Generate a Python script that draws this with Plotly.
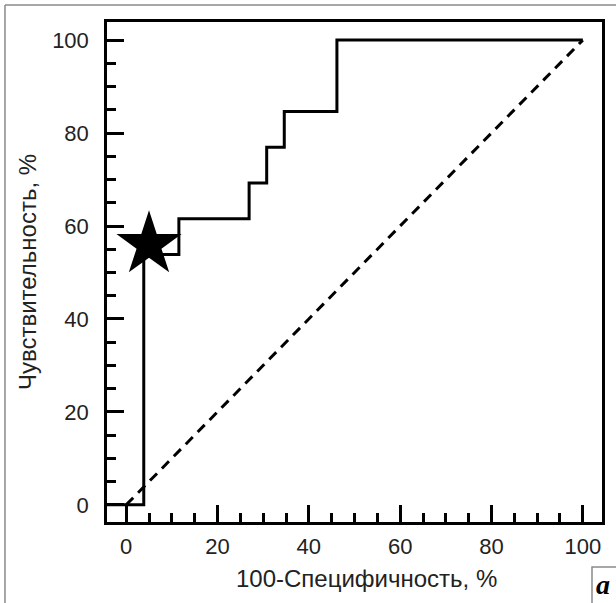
import plotly.graph_objects as go

# ROC curve data (100-specificity, sensitivity)
fpr = [-5, 3.85, 11.54, 26.92, 30.77, 34.62, 46.15, 100]
tpr = [0, 53.85, 61.54, 69.23, 76.92, 84.62, 100, 100]
diag_x = [0, 100]
diag_y = [0, 100]
cut_x = [5]
cut_y = [56]
x_ticks = [0, 20, 40, 60, 80, 100]
y_ticks = [0, 20, 40, 60, 80, 100]
x_title = "100-Специфичность, %"
y_title = "Чувствительность, %"
panel_label = "a"

FONT = "Liberation Sans, Arial"

fig = go.Figure()
fig.add_trace(go.Scatter(x=diag_x, y=diag_y, mode="lines",
                         line=dict(color="black", width=3, dash="10px,7px"),
                         showlegend=False, hoverinfo="skip"))
fig.add_trace(go.Scatter(x=cut_x, y=cut_y, mode="markers",
                         marker=dict(symbol="star", size=49, color="black",
                                     line=dict(width=0)),
                         showlegend=False))
fig.add_trace(go.Scatter(x=fpr, y=tpr, mode="lines", line_shape="hv",
                         line=dict(color="black", width=3),
                         showlegend=False))

axis_common = dict(
    showline=True, linecolor="black", linewidth=2.5, mirror=True,
    ticks="inside", ticklen=17, tickwidth=3, tickcolor="black",
    showgrid=False, zeroline=False,
    minor=dict(dtick=5, ticks="inside", ticklen=9, tickwidth=2.5, tickcolor="black", showgrid=False),
    tickfont=dict(family=FONT, size=22, color="#222"),
)

fig.update_xaxes(range=[-4.2, 104.2], tickvals=x_ticks, ticklabelstandoff=3,
                 **axis_common)
fig.update_yaxes(range=[-3.7, 103.9], tickvals=y_ticks, ticklabelstandoff=11,
                 title=dict(text=y_title, font=dict(family=FONT, size=24, color="#222"), standoff=9),
                 **axis_common)

fig.add_annotation(xref="paper", yref="paper", x=0.525, y=-0.112, yanchor="middle",
                   text=x_title, showarrow=False,
                   font=dict(family=FONT, size=24, color="#222"))

# outer frame and panel label box
fig.add_shape(type="line", xref="paper", yref="paper", x0=-0.2061, x1=1.05, y0=1.034, y1=1.034,
              line=dict(color="#8a8a8a", width=1.5))
fig.add_shape(type="line", xref="paper", yref="paper", x0=-0.2061, x1=-0.2061, y0=1.034, y1=-0.2,
              line=dict(color="#8a8a8a", width=1.5))
fig.add_shape(type="rect", xref="paper", yref="paper", x0=0.9798, x1=1.06, y0=-0.09, y1=-0.2,
              line=dict(color="#8a8a8a", width=1.5), fillcolor="white")
fig.add_annotation(xref="paper", yref="paper", x=0.9798, xanchor="left", xshift=2, y=-0.124, yanchor="middle",
                   text="<b><i>" + panel_label + "</i></b>",
                   showarrow=False, font=dict(family="Liberation Serif, Times New Roman", size=28, color="black"))

fig.update_layout(width=616, height=603, margin=dict(l=107, r=14, t=22, b=81),
                  plot_bgcolor="white", paper_bgcolor="white")
fig.write_html("out.html")
